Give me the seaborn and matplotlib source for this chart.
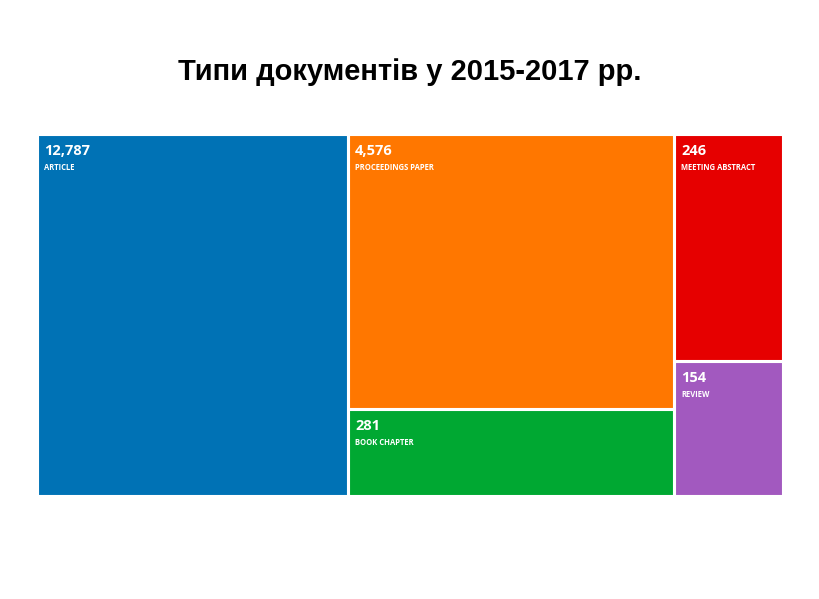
import matplotlib
matplotlib.use("Agg")
import matplotlib.pyplot as plt
import seaborn as sns
from matplotlib.patches import Rectangle

sns.set_theme(style="white")
plt.rcParams['font.family'] = ['Liberation Sans', 'DejaVu Sans']

categories = ["ARTICLE", "PROCEEDINGS PAPER", "BOOK CHAPTER", "MEETING ABSTRACT", "REVIEW"]
values = [12787, 4576, 281, 246, 154]
colors = ["#0072B5", "#FF7700", "#00A832", "#E60000", "#A259BF"]

# treemap cell boxes (x0, y0, x1, y1) in pixel space, as laid out in the reference
boxes = [(38, 135, 348, 496), (349, 135, 674, 409), (349, 410, 674, 496),
         (675, 135, 783, 361), (675, 362, 783, 496)]

fig = plt.figure(figsize=(8.2, 5.99), dpi=100)
ax = fig.add_axes([0, 0, 1, 1])
ax.set_xlim(0, 820)
ax.set_ylim(599, 0)
ax.axis("off")

for cat, val, col, (x0, y0, x1, y1) in zip(categories, values, colors, boxes):
    ax.add_patch(Rectangle((x0, y0), x1 - x0, y1 - y0, facecolor=col, edgecolor="white", lw=1.5))
    ax.text(x0 + 6, y0 + 9, f"{val:,}", color="white", fontsize=10.5, fontweight="bold",
            va="top", ha="left", family=["Open Sans", "DejaVu Sans"])
    ax.text(x0 + 6, y0 + 28, cat, color="white", fontsize=5.5, fontweight="bold",
            va="top", ha="left", family=["Open Sans", "DejaVu Sans"])

ax.text(410, 72, "Типи документів у 2015-2017 рр.", ha="center", va="center",
        fontsize=21, fontweight="bold", color="black")

fig.savefig("out.png", dpi=100)
